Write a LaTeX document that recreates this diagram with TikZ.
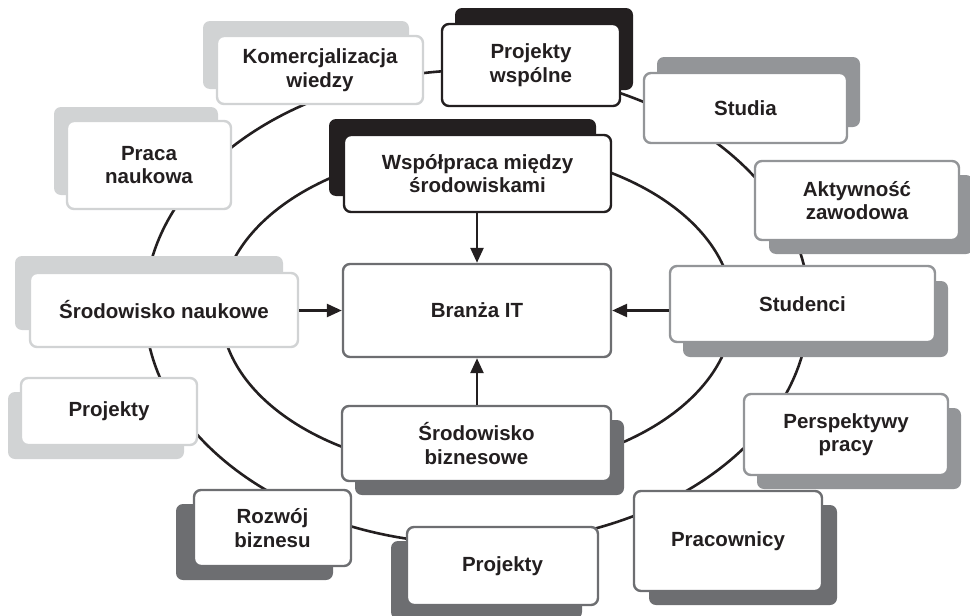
\documentclass[tikz,border=0pt]{standalone}
\usepackage{fontspec}
\setmainfont{Liberation Sans}
\usetikzlibrary{arrows.meta,shadows}
\definecolor{cLight}{HTML}{D1D3D4}
\definecolor{cMed}{HTML}{939598}
\definecolor{cDark}{HTML}{6D6E71}
\definecolor{cBlack}{HTML}{231F20}
\tikzset{
  box/.style={draw, fill=white, rounded corners=7pt, line width=2.4pt, align=center,
    text=cBlack, font=\bfseries\fontsize{20.5}{23.5}\selectfont, inner sep=0pt},
  shad/.style n args={3}{drop shadow={fill=#1, opacity=1, shadow scale=1,
    shadow xshift=#2pt, shadow yshift=#3pt, rounded corners=8pt}},
  lightbox/.style n args={2}{box, draw=cLight, shad={cLight}{#1}{#2}},
  medbox/.style n args={2}{box, draw=cMed, shad={cMed}{#1}{#2}},
  darkbox/.style n args={2}{box, draw=cDark, shad={cDark}{#1}{#2}},
  blackbox/.style n args={2}{box, draw=cBlack, shad={cBlack}{#1}{#2}},
  ring/.style={draw=cBlack, line width=2.6pt},
  arr/.style={draw=cBlack, line width=2.6pt, -{Triangle[width=13pt,length=15pt]}},
}
\begin{document}
\begin{tikzpicture}[x=1pt,y=-1pt]
\useasboundingbox (0,0) rectangle (970,616);
% rings
\draw[ring] (477,307) ellipse [x radius=332pt, y radius=237pt];
\draw[ring] (477,310) ellipse [x radius=256pt, y radius=161pt];
% boxes
\node[lightbox={-14}{15}, minimum width=206pt, minimum height=68pt] (kom) at (320,70) {Komercjalizacja\\wiedzy};
\node[blackbox={13}{16}, minimum width=178pt, minimum height=82pt] (pw) at (531,65) {Projekty\\wspólne};
\node[lightbox={-13}{14}, minimum width=164pt, minimum height=88pt] (praca) at (149,165) {Praca\\naukowa};
\node[blackbox={-15}{16}, minimum width=267pt, minimum height=77pt] (wsp) at (477.5,173.5) {Współpraca między\\środowiskami};
\node[medbox={13}{16}, minimum width=203pt, minimum height=70pt] (studia) at (745.5,108) {Studia};
\node[medbox={14}{-14}, minimum width=204pt, minimum height=79pt] (akt) at (857,200.5) {Aktywność\\zawodowa};
\node[medbox={13}{-15}, minimum width=265pt, minimum height=76pt] (studenci) at (802.5,304) {Studenci};
\node[lightbox={-15}{17}, minimum width=268pt, minimum height=74pt] (srn) at (164,310) {Środowisko naukowe};
\node[box, draw=cDark, minimum width=268pt, minimum height=93pt] (branza) at (477,310.5) {Branża IT};
\node[lightbox={-13}{-14}, minimum width=176pt, minimum height=67pt] (projL) at (109,411.5) {Projekty};
\node[darkbox={13}{-14}, minimum width=269pt, minimum height=75pt] (srb) at (476.5,443.5) {Środowisko\\biznesowe};
\node[darkbox={-18}{-14}, minimum width=157pt, minimum height=76pt] (rozwoj) at (272.5,528) {Rozwój\\biznesu};
\node[darkbox={-16}{-14}, minimum width=191pt, minimum height=78pt] (projB) at (502.5,566) {Projekty};
\node[medbox={13}{-14}, minimum width=204pt, minimum height=81pt] (persp) at (846,434.5) {Perspektywy\\pracy};
\node[darkbox={15}{-14}, minimum width=188pt, minimum height=100pt] (prac) at (728,541) {Pracownicy};
% arrows
\draw[arr] (wsp.south -| branza.north) -- (branza.north);
\draw[arr] (srb.north -| branza.south) -- (branza.south);
\draw[arr] (srn.east |- branza.west) -- (branza.west);
\draw[arr] (studenci.west |- branza.east) -- (branza.east);
\end{tikzpicture}
\end{document}
